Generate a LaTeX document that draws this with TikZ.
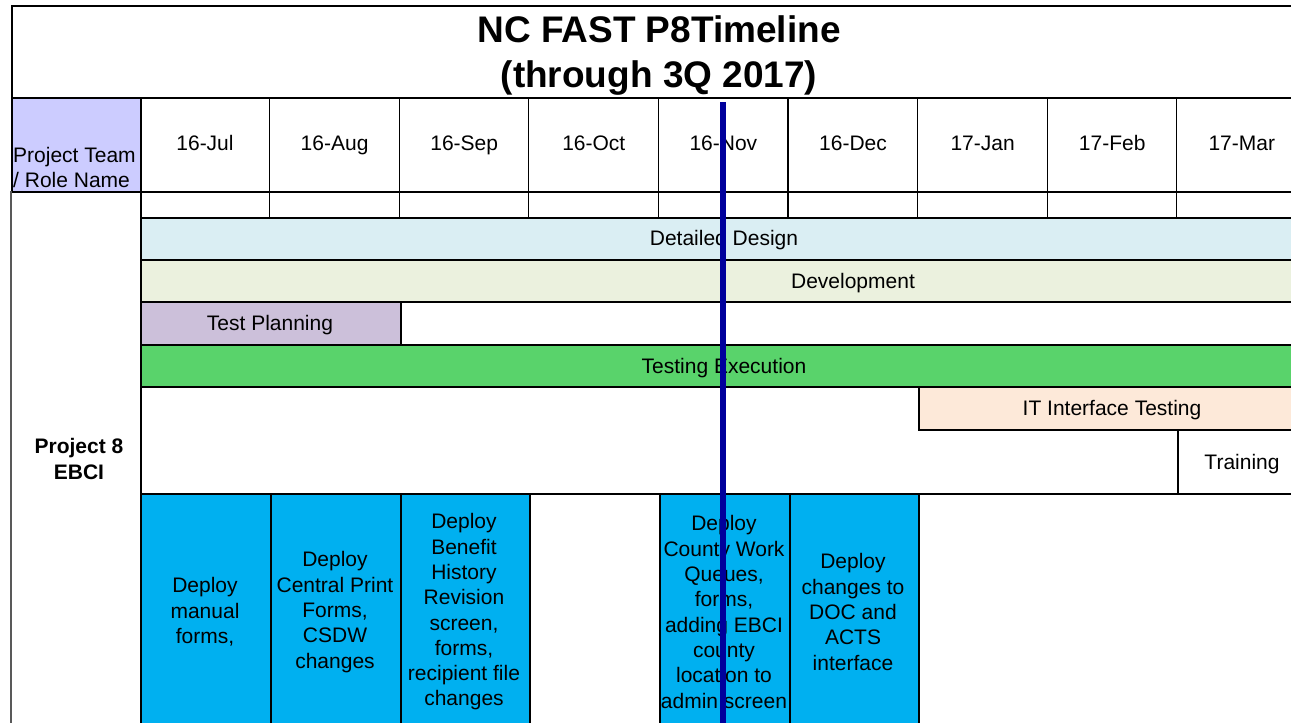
\documentclass[tikz,border=0pt]{standalone}
\usepackage{fontspec}
\setmainfont{Liberation Sans}
\definecolor{lav}{HTML}{CCCCFF}
\definecolor{ddblue}{HTML}{DAEEF3}
\definecolor{devgreen}{HTML}{EBF1DE}
\definecolor{tplan}{HTML}{CCC0DA}
\definecolor{texec}{HTML}{59D36B}
\definecolor{itpeach}{HTML}{FDE9D9}
\definecolor{deployblue}{HTML}{00B0F0}
\definecolor{navyline}{HTML}{00009C}
\begin{document}
\begin{tikzpicture}[x=1pt,y=-1pt,
  thin line/.style={draw=black,line width=1.3pt},
  bar/.style={draw=black,line width=2pt,rectangle,inner sep=0pt,anchor=north west},
  lbl/.style={inner sep=0pt,font=\fontsize{21}{25.3}\selectfont,align=center},
  onel/.style={inner sep=0pt,font=\fontsize{21}{25.3}\selectfont,anchor=base},
  titlefont/.style={inner sep=0pt,font=\fontsize{37}{45}\selectfont\bfseries,align=center}]
\useasboundingbox (0,0) rectangle (1291,723);
\clip (0,0) rectangle (1291,723);
% frame and header
\node[bar,fill=white,minimum width=1300pt,minimum height=92pt] (titlebox) at (11,5) {};
\node[titlefont] (title) at (659,56) {NC FAST P8Timeline\\(through 3Q 2017)};
\node[bar,fill=lav,minimum width=129pt,minimum height=94pt] (rolehdr) at (11,97) {};
\node[inner sep=0pt,font=\fontsize{21}{25}\selectfont,align=left,anchor=south west] (roletxt) at (13,188) {Project Team\\/ Role Name};
\node[bar,fill=white,minimum width=1170pt,minimum height=94pt] (monthrow) at (140,97) {};
\node[bar,fill=white,minimum width=1170pt,minimum height=26pt] (emptyrow) at (140,191) {};
\foreach \i/\m in {0/16-Jul,1/16-Aug,2/16-Sep,3/16-Oct,4/16-Nov,5/16-Dec,6/17-Jan,7/17-Feb,8/17-Mar}{
  \node[onel] (m\i) at (205+129.6*\i,150.5) {\m};
}
\foreach \i in {1,...,8}{
  \draw[thin line] (140+129.6*\i,97) -- (140+129.6*\i,217);
}
% left column line
\draw[draw=black!65,line width=2pt] (11,191) -- (11,723);
\node[inner sep=0pt,font=\fontsize{21}{25.3}\selectfont\bfseries,align=center] (proj) at (79,459) {Project 8\\EBCI};
% bars
\node[bar,fill=ddblue,minimum width=1170pt,minimum height=42pt] (dd) at (140,217) {};
\node[onel] (ddt) at (724,245.5) {Detailed Design};
\node[bar,fill=devgreen,minimum width=1170pt,minimum height=42pt] (dev) at (140,259) {};
\node[onel] (devt) at (853,288.5) {Development};
\node[bar,fill=white,minimum width=1170pt,minimum height=43pt] (tprow) at (140,301) {};
\node[bar,fill=tplan,minimum width=260pt,minimum height=43pt] (tp) at (140,301) {};
\node[onel] (tpt) at (270,330.5) {Test Planning};
\node[bar,fill=texec,minimum width=1170pt,minimum height=42pt] (te) at (140,344) {};
\node[onel] (tet) at (724,373.5) {Testing Execution};
\node[bar,fill=white,minimum width=1170pt,minimum height=107pt] (whiterow) at (140,386) {};
\node[bar,fill=itpeach,minimum width=392pt,minimum height=43pt] (it) at (918,386) {};
\node[onel] (itt) at (1112,415.5) {IT Interface Testing};
\node[bar,fill=white,minimum width=133pt,minimum height=64pt] (tr) at (1177,429) {};
\node[onel] (trt) at (1242,469.5) {Training};
% deploy row
\node[bar,fill=white,minimum width=1170pt,minimum height=240pt] (deprow) at (140,493) {};
\node[bar,fill=deployblue,minimum width=130pt,minimum height=240pt] (d1) at (140,493) {};
\node[bar,fill=deployblue,minimum width=130pt,minimum height=240pt] (d2) at (270,493) {};
\node[bar,fill=deployblue,minimum width=129pt,minimum height=240pt] (d3) at (400,493) {};
\node[bar,fill=deployblue,minimum width=130pt,minimum height=240pt] (d5) at (659,493) {};
\node[bar,fill=deployblue,minimum width=129pt,minimum height=240pt] (d6) at (789,493) {};
\node[lbl] (d1t) at (205,612) {Deploy\\manual\\forms,};
\node[lbl] (d2t) at (335,612) {Deploy\\Central Print\\Forms,\\CSDW\\changes};
\node[lbl] (d3t) at (464,612) {Deploy\\Benefit\\History\\Revision\\screen,\\forms,\\recipient file\\changes};
\node[lbl] (d5t) at (724,612) {Deploy\\County Work\\Queues,\\forms,\\adding EBCI\\county\\location to\\admin screen};
\node[lbl] (d6t) at (853,612) {Deploy\\changes to\\DOC and\\ACTS\\interface};
% today line
\coordinate (nowtop) at (723,102);
\coordinate (nowbot) at (723,730);
\draw[navyline,line width=5.5pt] (nowtop) -- (nowbot);
\end{tikzpicture}
\end{document}
